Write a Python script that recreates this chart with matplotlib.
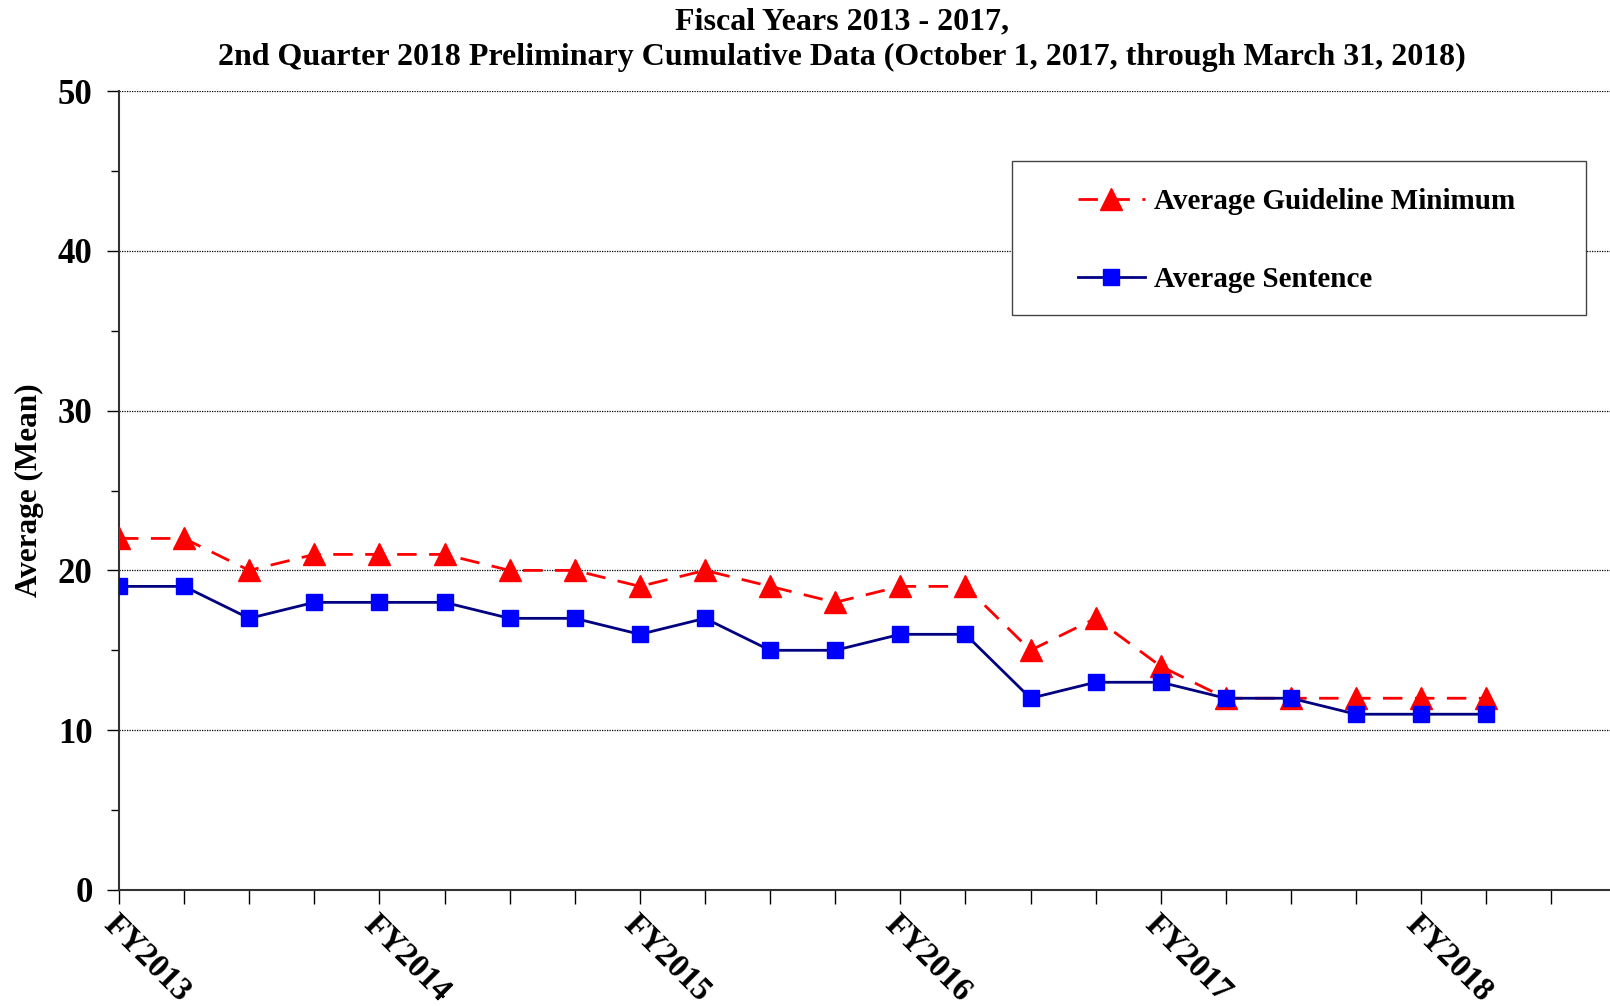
import matplotlib.pyplot as plt
from matplotlib.patches import Rectangle
from matplotlib.ticker import MultipleLocator

plt.rcParams['font.family'] = ['Liberation Serif', 'DejaVu Serif']
plt.rcParams['font.weight'] = 'bold'

# quarters FY2013 Q1 .. FY2018 Q2
year_labels = ['FY2013', 'FY2014', 'FY2015', 'FY2016', 'FY2017', 'FY2018']
guideline_min = [22, 22, 20, 21, 21, 21, 20, 20, 19, 20, 19, 18, 19, 19, 15, 17, 14, 12, 12, 12, 12, 12]
avg_sentence = [19, 19, 17, 18, 18, 18, 17, 17, 16, 17, 15, 15, 16, 16, 12, 13, 13, 12, 12, 11, 11, 11]

fig = plt.figure(figsize=(16.1, 10.06), dpi=100)
ax = fig.add_axes([119 / 1610, 1 - 890 / 1006, 1 - 119 / 1610, 799 / 1006])

x = list(range(len(guideline_min)))
ax.plot(x, guideline_min, color='#FF0000', linestyle=(0, (7, 4.5)), linewidth=2,
        marker='^', markersize=16, markerfacecolor='#FF0000', markeredgecolor='#FF0000',
        label='Average Guideline Minimum', zorder=3)
ax.plot(x, avg_sentence, color='#000080', linestyle='-', linewidth=2,
        marker='s', markersize=12, markerfacecolor='#0000FF', markeredgecolor='#0000FF',
        label='Average Sentence', zorder=4)

ax.set_xlim(0, 22.9)
ax.set_ylim(0, 50)
ax.yaxis.set_major_locator(MultipleLocator(10))
ax.yaxis.set_minor_locator(MultipleLocator(5))
ax.set_xticks(range(0, 23))
ax.set_xticklabels([year_labels[i // 4] if i % 4 == 0 else '' for i in range(23)],
                   rotation=-45, ha='left', va='top', rotation_mode='anchor')
ax.grid(axis='y', which='major', linestyle=(0, (1, 1)), color='black', linewidth=0.9)
ax.set_axisbelow(True)

for s in ['top', 'right']:
    ax.spines[s].set_visible(False)
for s in ['left', 'bottom']:
    ax.spines[s].set_color('#333333')
    ax.spines[s].set_linewidth(1.5)

ax.tick_params(axis='y', which='major', length=9, width=1, labelsize=25, pad=10)
ax.tick_params(axis='y', which='minor', length=6, width=1)
ax.tick_params(axis='x', length=10, width=1, labelsize=23.5, pad=4)
for lab in ax.get_xticklabels() + ax.get_yticklabels():
    lab.set_fontweight('bold')

ax.set_ylabel('Average (Mean)', fontsize=22.5, fontweight='bold', labelpad=10)

fig.text(820 / 1568, 1 - 38.5 / 980,
         'Fiscal Years 2013 - 2017,\n2nd Quarter 2018 Preliminary Cumulative Data (October 1, 2017, through March 31, 2018)',
         fontsize=23, fontweight='bold', ha='center', va='center', linespacing=1.3)

# legend box drawn separately so its size matches the original
ax.add_patch(Rectangle((0.599, 0.720), 0.385, 0.193, transform=ax.transAxes,
                       facecolor='white', edgecolor='#444444', linewidth=1, zorder=5))
leg = ax.legend(loc='center left', bbox_to_anchor=(0.643, 0.813), fontsize=21, frameon=False,
                borderpad=0, labelspacing=1.75, handlelength=2.3, handletextpad=0.3,
                borderaxespad=0)
leg.set_zorder(6)
for t in leg.get_texts():
    t.set_fontweight('bold')

fig.savefig('out.png', dpi=100)
